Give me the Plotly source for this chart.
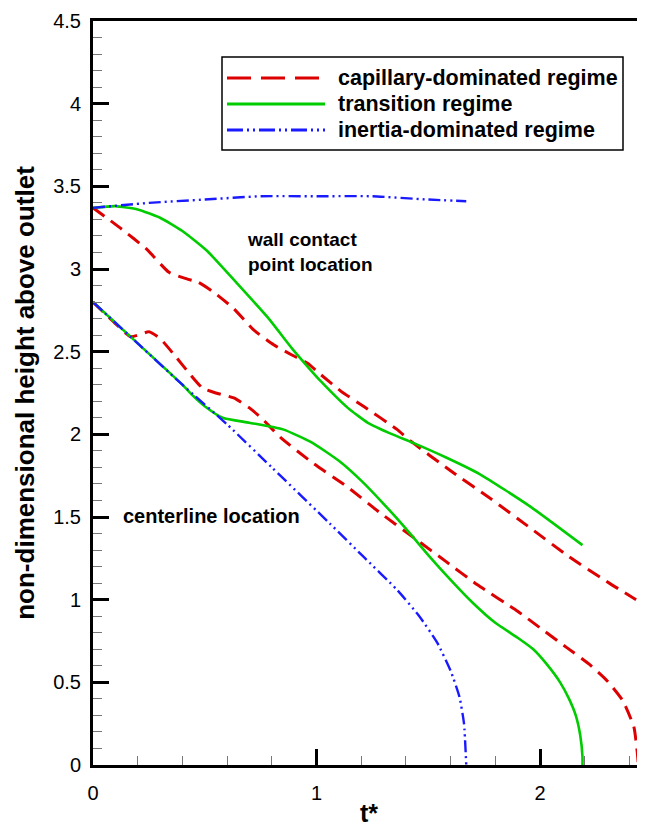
import plotly.graph_objects as go

# ---- data ----
# capillary-dominated regime: wall contact point
cap_wall_t = [0.0, 0.12, 0.24, 0.34, 0.42, 0.47, 0.54, 0.63, 0.72, 0.81, 0.89, 0.96, 1.02, 1.11, 1.21, 1.36, 1.42, 1.60, 1.78, 1.96, 2.13, 2.31, 2.43]
cap_wall_y = [3.37, 3.25, 3.12, 2.98, 2.94, 2.92, 2.86, 2.76, 2.63, 2.54, 2.48, 2.43, 2.36, 2.26, 2.17, 2.03, 1.96, 1.78, 1.61, 1.43, 1.26, 1.10, 1.00]
# capillary-dominated regime: centerline
cap_center_t = [0.0, 0.1, 0.17, 0.25, 0.30, 0.37, 0.43, 0.49, 0.55, 0.63, 0.70, 0.76, 0.84, 0.98, 1.14, 1.28, 1.45, 1.58, 1.72, 1.90, 2.0, 2.12, 2.22, 2.30, 2.37, 2.42, 2.435, 2.44]
cap_center_y = [2.80, 2.67, 2.59, 2.62, 2.58, 2.47, 2.37, 2.28, 2.25, 2.22, 2.16, 2.09, 1.98, 1.83, 1.68, 1.53, 1.36, 1.23, 1.09, 0.93, 0.83, 0.71, 0.61, 0.51, 0.39, 0.23, 0.08, 0.0]
# transition regime: wall contact point
tr_wall_t = [0.0, 0.1, 0.2, 0.3, 0.4, 0.51, 0.64, 0.78, 0.89, 0.96, 1.02, 1.14, 1.23, 1.34, 1.43, 1.58, 1.73, 1.96, 2.19]
tr_wall_y = [3.37, 3.38, 3.36, 3.31, 3.23, 3.11, 2.92, 2.71, 2.52, 2.41, 2.32, 2.16, 2.07, 2.00, 1.95, 1.86, 1.76, 1.56, 1.33]
# transition regime: centerline
tr_center_t = [0.0, 0.2, 0.4, 0.45, 0.5, 0.58, 0.7, 0.85, 0.98, 1.1, 1.2, 1.3, 1.4, 1.5, 1.6, 1.7, 1.8, 1.9, 1.97, 2.03, 2.09, 2.13, 2.16, 2.18, 2.19, 2.19]
tr_center_y = [2.80, 2.55, 2.30, 2.23, 2.17, 2.10, 2.07, 2.03, 1.95, 1.84, 1.72, 1.58, 1.43, 1.27, 1.12, 0.98, 0.86, 0.77, 0.70, 0.61, 0.50, 0.40, 0.30, 0.18, 0.05, 0.0]
# inertia-dominated regime: wall contact point
in_wall_t = [0.0, 0.25, 0.5, 0.75, 1.0, 1.25, 1.5, 1.67]
in_wall_y = [3.37, 3.40, 3.42, 3.44, 3.44, 3.44, 3.42, 3.41]
# inertia-dominated regime: centerline
in_center_t = [0.0, 0.2, 0.4, 0.6, 0.8, 1.06, 1.21, 1.36, 1.46, 1.54, 1.60, 1.64, 1.66, 1.67]
in_center_y = [2.80, 2.55, 2.30, 2.06, 1.80, 1.46, 1.26, 1.06, 0.90, 0.74, 0.57, 0.41, 0.25, 0.0]

legend_labels = ["capillary-dominated regime", "transition regime", "inertia-dominated regime"]

RED = "#dd0000"
GREEN = "#00cc00"
BLUE = "#1a1aff"
RED_DASH = "14px,8px"
BLUE_DASH = "12px,4px,2px,4px,2px,4px"

fig = go.Figure()

def add(t, y, color, dash, width):
    fig.add_trace(go.Scatter(x=t, y=y, mode="lines", showlegend=False,
                             line=dict(color=color, dash=dash, width=width, shape="spline", smoothing=0.5),
                             hoverinfo="skip"))

add(cap_wall_t, cap_wall_y, RED, RED_DASH, 3)
add(cap_center_t, cap_center_y, RED, RED_DASH, 3)
add(tr_wall_t, tr_wall_y, GREEN, "solid", 2.6)
add(tr_center_t, tr_center_y, GREEN, "solid", 2.6)
add(in_wall_t, in_wall_y, BLUE, BLUE_DASH, 2.4)
add(in_center_t, in_center_y, BLUE, BLUE_DASH, 2.4)

# page body has an 8px margin, so the figure is drawn offset by (8, 8)
OFF = 8
W, H = 645 - OFF, 827 - OFF
L, R, T, B = 93 - OFF, 0, 21 - OFF, 827 - 765
pw = W - L - R
ph = H - T - B

def px(xpix):
    return (xpix - OFF - L) / pw

def py(ypix):
    return (H - B - (ypix - OFF)) / ph

FONT = "Liberation Sans, Arial, sans-serif"

# custom legend (box, sample lines, labels)
fig.add_shape(type="rect", xref="paper", yref="paper", x0=px(222), x1=px(623), y0=py(150), y1=py(57),
              line=dict(color="black", width=1.5), fillcolor="white", layer="above")
legend_rows = [(78, RED, "24px,10px", 3), (104, GREEN, "solid", 3), (130, BLUE, "16px,4px,2px,4px,2px,4px", 3)]
for (yy, col, dsh, wd), lab in zip(legend_rows, legend_labels):
    fig.add_shape(type="line", xref="paper", yref="paper", x0=px(227), x1=px(325), y0=py(yy), y1=py(yy),
                  line=dict(color=col, dash=dsh, width=wd), layer="above")
    fig.add_annotation(xref="paper", yref="paper", x=px(336), y=py(yy), text="<b>" + lab + "</b>",
                       showarrow=False, xanchor="left", yanchor="middle",
                       font=dict(family=FONT, size=21.5, color="black"))

fig.add_annotation(xref="paper", yref="paper", x=px(245), y=py(252),
                   text="<b>wall contact<br>point location</b>", showarrow=False, align="left",
                   xanchor="left", yanchor="middle", font=dict(family=FONT, size=19, color="black"))
fig.add_annotation(xref="paper", yref="paper", x=px(121), y=py(516),
                   text="<b>centerline location</b>", showarrow=False,
                   xanchor="left", yanchor="middle", font=dict(family=FONT, size=20, color="black"))

fig.update_layout(
    width=W, height=H,
    margin=dict(l=L, r=R, t=T, b=B, autoexpand=False),
    paper_bgcolor="white", plot_bgcolor="white",
    font=dict(family=FONT, size=20, color="black"),
    showlegend=False,
    xaxis=dict(range=[0, pw / 223.5], tickvals=[0, 1, 2], ticktext=["0", "1", "2"],
               ticks="inside", ticklen=16, tickwidth=3, tickcolor="black",
               showline=True, linewidth=3, linecolor="black", mirror=True,
               showgrid=False, zeroline=False, automargin=False,
               minor=dict(dtick=0.2, tick0=0, ticks="inside", ticklen=9, tickwidth=1.2, tickcolor="#777777", showgrid=False),
               tickfont=dict(family=FONT, size=20), ticklabelstandoff=8,
               title=dict(text="<b>t*</b>", font=dict(family=FONT, size=25), standoff=4)),
    yaxis=dict(range=[0, 4.5], tickvals=[0, 0.5, 1, 1.5, 2, 2.5, 3, 3.5, 4, 4.5],
               ticktext=["0", "0.5", "1", "1.5", "2", "2.5", "3", "3.5", "4", "4.5"],
               ticks="inside", ticklen=16, tickwidth=3, tickcolor="black",
               showline=True, linewidth=3, linecolor="black", mirror=True,
               showgrid=False, zeroline=False, automargin=False,
               minor=dict(dtick=0.1, tick0=0, ticks="inside", ticklen=9, tickwidth=1.2, tickcolor="#777777", showgrid=False),
               tickfont=dict(family=FONT, size=20), ticklabelstandoff=5,
               title=dict(text="<b>non-dimensional height above outlet</b>", font=dict(family=FONT, size=26), standoff=12)),
)

fig.write_html("out.html")
